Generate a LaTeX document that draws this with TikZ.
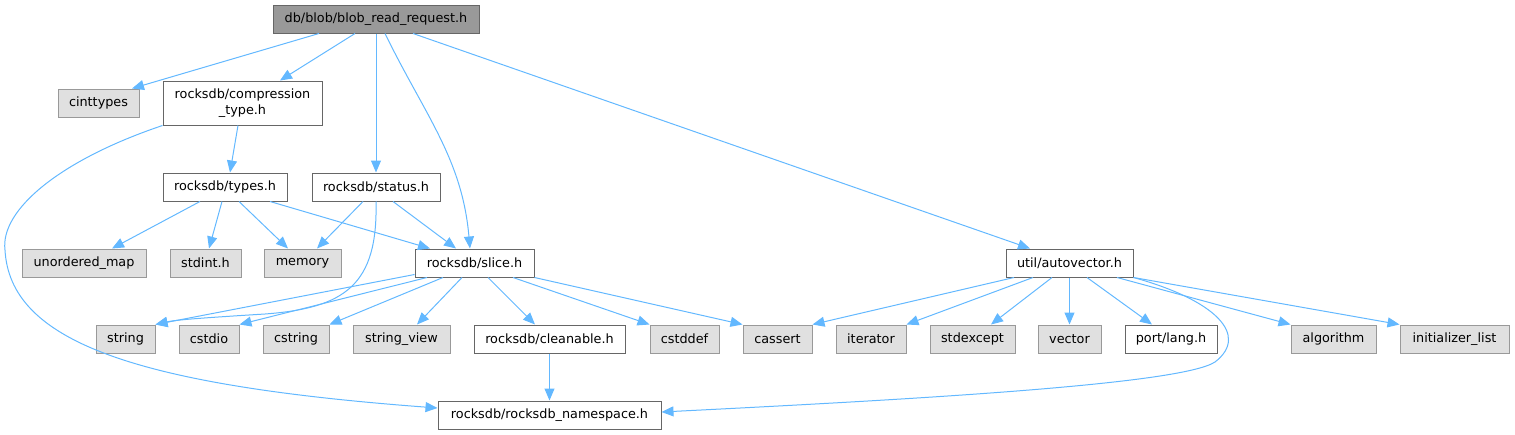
\documentclass[tikz,border=0pt]{standalone}
\usepackage{fontspec}
\setmainfont{DejaVu Sans}
\usetikzlibrary{arrows.meta}
\definecolor{edgec}{HTML}{63B8FF}
\definecolor{gfill}{HTML}{E0E0E0}
\definecolor{gline}{HTML}{999999}
\definecolor{dline}{HTML}{666666}
\definecolor{rfill}{HTML}{999999}
\begin{document}
\begin{tikzpicture}[x=1pt,y=-1pt,
  box/.style={draw=dline, fill=white, line width=1pt, minimum height=28pt, inner sep=0pt,
    font=\fontsize{12.8}{16}\selectfont, align=center},
  sysbox/.style={box, draw=gline, fill=gfill},
  rootbox/.style={box, draw=dline, fill=rfill},
  edge/.style={draw=edgec, line width=1pt, -{Triangle[length=12pt,width=10pt]}}]
\useasboundingbox (0,0) rectangle (1515,434);
% nodes
\node[rootbox, minimum width=206pt] (root) at (376,19) {db/blob/blob\_read\_request.h};
\node[sysbox, minimum width=81pt] (cint) at (98.5,103) {cinttypes};
\node[box, minimum width=159pt, minimum height=44pt] (compr) at (242.5,103) {rocksdb/compression\\\_type.h};
\node[box, minimum width=124pt] (types) at (225,187) {rocksdb/types.h};
\node[box, minimum width=128pt] (status) at (376,187) {rocksdb/status.h};
\node[sysbox, minimum width=124pt] (umap) at (84,263) {unordered\_map};
\node[sysbox, minimum width=71pt] (stdint) at (205.5,263) {stdint.h};
\node[sysbox, minimum width=77pt] (memory) at (302.5,263) {memory};
\node[box, minimum width=119pt] (slice) at (474.5,263) {rocksdb/slice.h};
\node[box, minimum width=127pt] (autov) at (1069.5,263) {util/autovector.h};
\node[sysbox, minimum width=59pt] (string) at (125.5,339) {string};
\node[sysbox, minimum width=60pt] (cstdio) at (209,339) {cstdio};
\node[sysbox, minimum width=66pt] (cstring) at (296,339) {cstring};
\node[sysbox, minimum width=97pt] (sview) at (401.5,339) {string\_view};
\node[box, minimum width=151pt] (clean) at (549.5,339) {rocksdb/cleanable.h};
\node[sysbox, minimum width=69pt] (cstddef) at (684.5,339) {cstddef};
\node[sysbox, minimum width=69pt] (cassert) at (777.5,339) {cassert};
\node[sysbox, minimum width=70pt] (iter) at (871,339) {iterator};
\node[sysbox, minimum width=85pt] (stdexc) at (972.5,339) {stdexcept};
\node[sysbox, minimum width=63pt] (vector) at (1069.5,339) {vector};
\node[box, minimum width=92pt] (lang) at (1171,339) {port/lang.h};
\node[sysbox, minimum width=85pt] (algo) at (1333.5,339) {algorithm};
\node[sysbox, minimum width=109pt] (initl) at (1454.5,339) {initializer\_list};
\node[box, minimum width=223pt] (ns) at (549.5,415) {rocksdb/rocksdb\_namespace.h};
% edges from root
\draw[edge] ([xshift=-57pt]root.south) -- ([xshift=33.5pt]cint.north);
\draw[edge] ([xshift=-21pt]root.south) -- ([xshift=37.5pt]compr.north);
\draw[edge] (root.south) -- (status.north);
\draw[edge] ([xshift=9pt]root.south) to[out=-64,in=95] ([xshift=-4.5pt]slice.north);
\draw[edge] ([xshift=37pt]root.south) -- ([xshift=-39.5pt]autov.north);
% compression_type
\draw[edge] ([xshift=-4.5pt]compr.south) -- ([xshift=5pt]types.north);
\draw[edge] (compr.south west) .. controls (60,160) and (0,210) .. (5,250)
  .. controls (10,340) and (130,385) .. ([yshift=7pt]ns.west);
% types
\draw[edge] ([xshift=-25pt]types.south) -- ([xshift=28pt]umap.north);
\draw[edge] ([xshift=-3pt]types.south) -- ([xshift=3.5pt]stdint.north);
\draw[edge] ([xshift=14pt]types.south) -- ([xshift=-14.5pt]memory.north);
\draw[edge] ([xshift=45pt]types.south) -- ([xshift=-44.5pt]slice.north);
% status
\draw[edge] ([xshift=-13pt]status.south) -- ([xshift=14.5pt]memory.north);
\draw[edge] ([xshift=17pt]status.south) -- ([xshift=-18.5pt]slice.north);
\draw[edge] (status.south) .. controls (378,285) and (345,308) .. (265,314)
  .. controls (200,318) and (175,320) .. (string.north east);
% slice
\draw[edge] ([yshift=3pt]slice.south west) -- (string.north east);
\draw[edge] ([xshift=-47.5pt]slice.south) -- (cstdio.north east);
\draw[edge] ([xshift=-31.5pt]slice.south) -- (cstring.north east);
\draw[edge] ([xshift=-12.5pt]slice.south) -- ([xshift=15.5pt]sview.north);
\draw[edge] ([xshift=13.5pt]slice.south) -- ([xshift=-14.5pt]clean.north);
\draw[edge] ([xshift=38.5pt]slice.south) -- (cstddef.north west);
\draw[edge] (slice.south east) -- (cassert.north west);
% cleanable
\draw[edge] (clean.south) -- (ns.north);
% autovector
\draw[edge] ([xshift=-55.5pt]autov.south) -- (cassert.north east);
\draw[edge] ([xshift=-36.5pt]autov.south) -- (iter.north east);
\draw[edge] ([xshift=-17.5pt]autov.south) -- ([xshift=18.5pt]stdexc.north);
\draw[edge] (autov.south) -- (vector.north);
\draw[edge] ([xshift=17.5pt]autov.south) -- ([xshift=-19pt]lang.north);
\draw[edge] ([xshift=47.5pt]autov.south) -- (algo.north west);
\draw[edge] (autov.south east) -- (initl.north west);
\draw[edge] (autov.south east) .. controls (1215,300) and (1250,335) .. (1215,362)
  .. controls (1180,385) and (900,400) .. ([yshift=3pt]ns.east);
\end{tikzpicture}
\end{document}
